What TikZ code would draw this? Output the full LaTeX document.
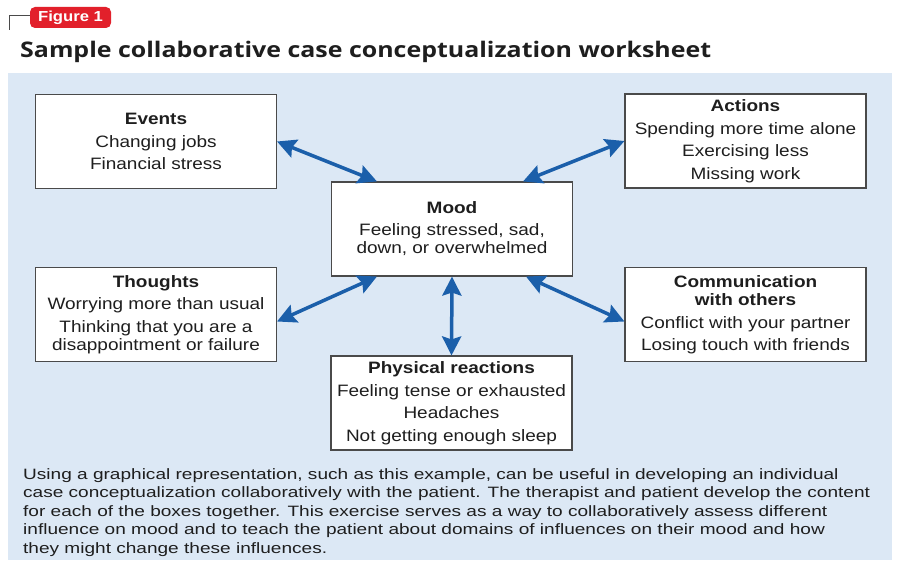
\documentclass[tikz,border=0pt]{standalone}
\usepackage{fontspec}
\setmainfont{Liberation Sans}[FakeStretch=1.15]
\newfontfamily\titlefont{Open Sans}[FakeStretch=1.16]
\newfontfamily\notefont{Liberation Sans}[FakeStretch=1.27]
\usetikzlibrary{arrows.meta}
\definecolor{panelblue}{HTML}{DCE8F5}
\definecolor{arrowblue}{HTML}{1B5FAA}
\definecolor{badgered}{HTML}{E2202B}
\definecolor{boxgray}{HTML}{4A4A4A}
\definecolor{inkgray}{HTML}{1E1E1E}

\begin{document}
\begin{tikzpicture}[x=1pt,y=1pt,
    box/.style={draw=boxgray, line width=1.1pt, fill=white, minimum width=241pt,
        minimum height=94pt, align=center, inner sep=0pt, text=inkgray,
        font=\fontsize{16.5}{18.5}\selectfont},
    link/.style={arrowblue, line width=3.5pt,
        {Stealth[length=19pt,width=19pt,inset=3pt]}-{Stealth[length=19pt,width=19pt,inset=3pt]}}]
    \useasboundingbox (0,0) rectangle (900,568);
    \fill[white] (0,0) rectangle (900,568);
    \fill[panelblue] (8,8) rectangle (892,495);

    % tag and title
    \draw[boxgray, line width=1pt] (9,538) -- (9,552) -- (30,552);
    \node[fill=badgered, rounded corners=5pt, text=white, minimum width=81pt,
        minimum height=21pt, inner sep=0pt,
        font=\bfseries\fontsize{14.5}{16}\selectfont] (tag) at (70.5,550.5) {Figure 1};
    \node[anchor=base west, inner sep=0pt, text=inkgray,
        font=\titlefont\bfseries\fontsize{21.5}{24}\selectfont] (title) at (20,510)
        {Sample collaborative case conceptualization worksheet};

    % the six boxes
    \node[box] (events) at (156,426.5) {\textbf{Events}\\[4pt] Changing jobs\\[4pt] Financial stress};
    \node[box] (actions) at (745.5,427) {\textbf{Actions}\\[4pt] Spending more time alone\\[4pt]
        Exercising less\\[4pt] Missing work};
    \node[box] (mood) at (452,339) {\textbf{Mood}\\[3pt] Feeling stressed, sad,\\ down, or overwhelmed};
    \node[box] (thoughts) at (156,253.5) {\textbf{Thoughts}\\[4pt] Worrying more than usual\\[4pt]
        Thinking that you are a\\ disappointment or failure};
    \node[box] (comm) at (745.5,253.5) {\textbf{Communication}\\ \textbf{with others}\\[4pt]
        Conflict with your partner\\[4pt] Losing touch with friends};
    \node[box] (physical) at (451.5,165) {\textbf{Physical reactions}\\[4pt] Feeling tense or exhausted\\[4pt]
        Headaches\\[4pt] Not getting enough sleep};

    % arrows to and from mood
    \draw[link] (events.east) -- ([xshift=46pt]mood.north west);
    \draw[link] (actions.west) -- ([xshift=-50pt]mood.north east);
    \draw[link] ([yshift=-7pt]thoughts.east) -- ([xshift=46pt]mood.south west);
    \draw[link] ([yshift=-7pt]comm.west) -- ([xshift=-47pt]mood.south east);
    \draw[link] (mood.south) -- (physical.north);

    % caption text
    \node[anchor=north west, inner sep=0pt, align=left, text=inkgray,
        font=\notefont\fontsize{15}{18.5}\selectfont] (note) at (23,100)
        {Using a graphical representation, such as this example, can be useful in developing an individual\\
        case conceptualization collaboratively with the patient. The therapist and patient develop the content\\
        for each of the boxes together. This exercise serves as a way to collaboratively assess different\\
        influence on mood and to teach the patient about domains of influences on their mood and how\\
        they might change these influences.};
\end{tikzpicture}
\end{document}
